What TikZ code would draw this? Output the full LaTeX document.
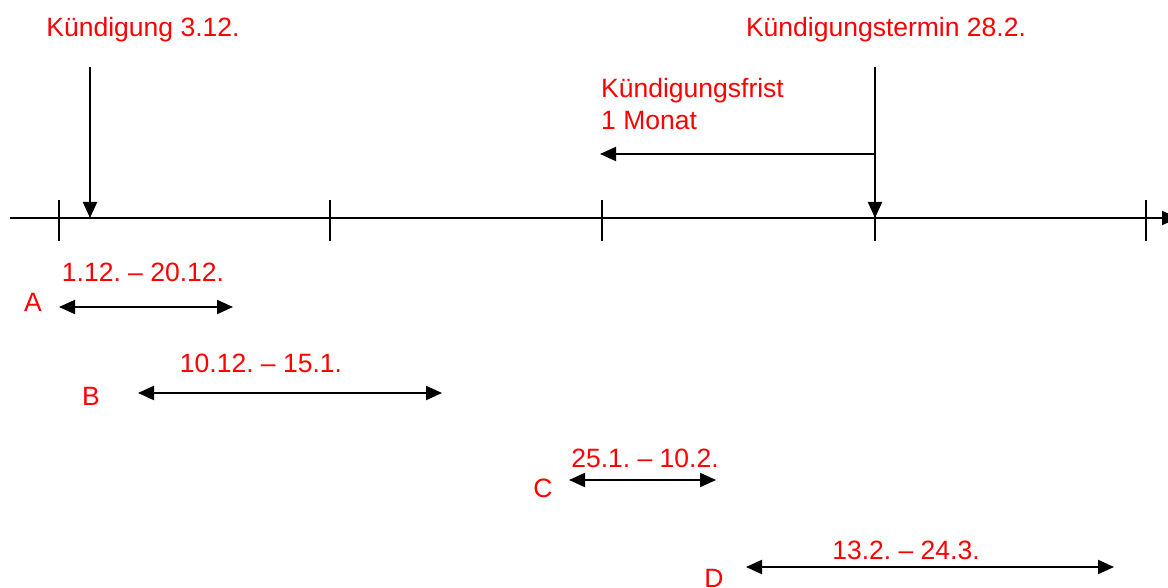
\documentclass[tikz,border=0pt]{standalone}
\usepackage{fontspec}
\setmainfont{Liberation Sans}
\usetikzlibrary{arrows.meta}
\definecolor{lblred}{RGB}{255,0,0}
\frenchspacing
\begin{document}
\begin{tikzpicture}[x=1pt,y=-1pt,
  lbl/.style={text=lblred,font=\fontsize{26.5}{32}\selectfont\frenchspacing,inner sep=0pt},
  line/.style={line width=2pt,black},
  tip/.style={line,-{Triangle[length=16pt,width=14pt]}},
  span/.style={line,{Triangle[length=16pt,width=14pt]}-{Triangle[length=16pt,width=14pt]}}]
\useasboundingbox (0,0) rectangle (1168,588);
\clip (0,0) rectangle (1168,588);
\fill[white] (0,0) rectangle (1168,588);

% time axis with ticks
\coordinate (ax0) at (10,218);
\coordinate (ax1) at (1178,218);
\draw[tip] (ax0) -- (ax1);
\foreach \x in {59,330,602,875,1146}
  \draw[line] (\x,200) -- (\x,241);

% notice given and notice date
\node[lbl,anchor=base] (kue) at (143,37) {Kündigung 3.12.};
\coordinate (kueTop) at (90,67);
\coordinate (kueAx) at (90,218);
\draw[tip] (kueTop) -- (kueAx);

\node[lbl,anchor=base] (term) at (886,37) {Kündigungstermin 28.2.};
\coordinate (termTop) at (875,67);
\coordinate (termAx) at (875,218);
\draw[tip] (termTop) -- (termAx);

% notice period
\node[lbl,anchor=base west] (frist1) at (601,98) {Kündigungsfrist};
\node[lbl,anchor=base west] (frist2) at (601,130) {1 Monat};
\coordinate (fristR) at (875,154);
\coordinate (fristL) at (600,154);
\draw[tip] (fristR) -- (fristL);

% periods A-D
\node[lbl,anchor=base] (A) at (33,312) {A};
\node[lbl,anchor=base] (Ad) at (143,282) {1.12. – 20.12.};
\coordinate (A0) at (59,307); \coordinate (A1) at (233,307);
\draw[span] (A0) -- (A1);

\node[lbl,anchor=base] (B) at (91,405) {B};
\node[lbl,anchor=base] (Bd) at (261,372) {10.12. – 15.1.};
\coordinate (B0) at (138,393); \coordinate (B1) at (442,393);
\draw[span] (B0) -- (B1);

\node[lbl,anchor=base] (C) at (543,497) {C};
\node[lbl,anchor=base] (Cd) at (645,467) {25.1. – 10.2.};
\coordinate (C0) at (569,480); \coordinate (C1) at (716,480);
\draw[span] (C0) -- (C1);

\node[lbl,anchor=base] (D) at (714,587) {D};
\node[lbl,anchor=base] (Dd) at (906,559) {13.2. – 24.3.};
\coordinate (D0) at (746,567); \coordinate (D1) at (1114,567);
\draw[span] (D0) -- (D1);
\end{tikzpicture}
\end{document}
